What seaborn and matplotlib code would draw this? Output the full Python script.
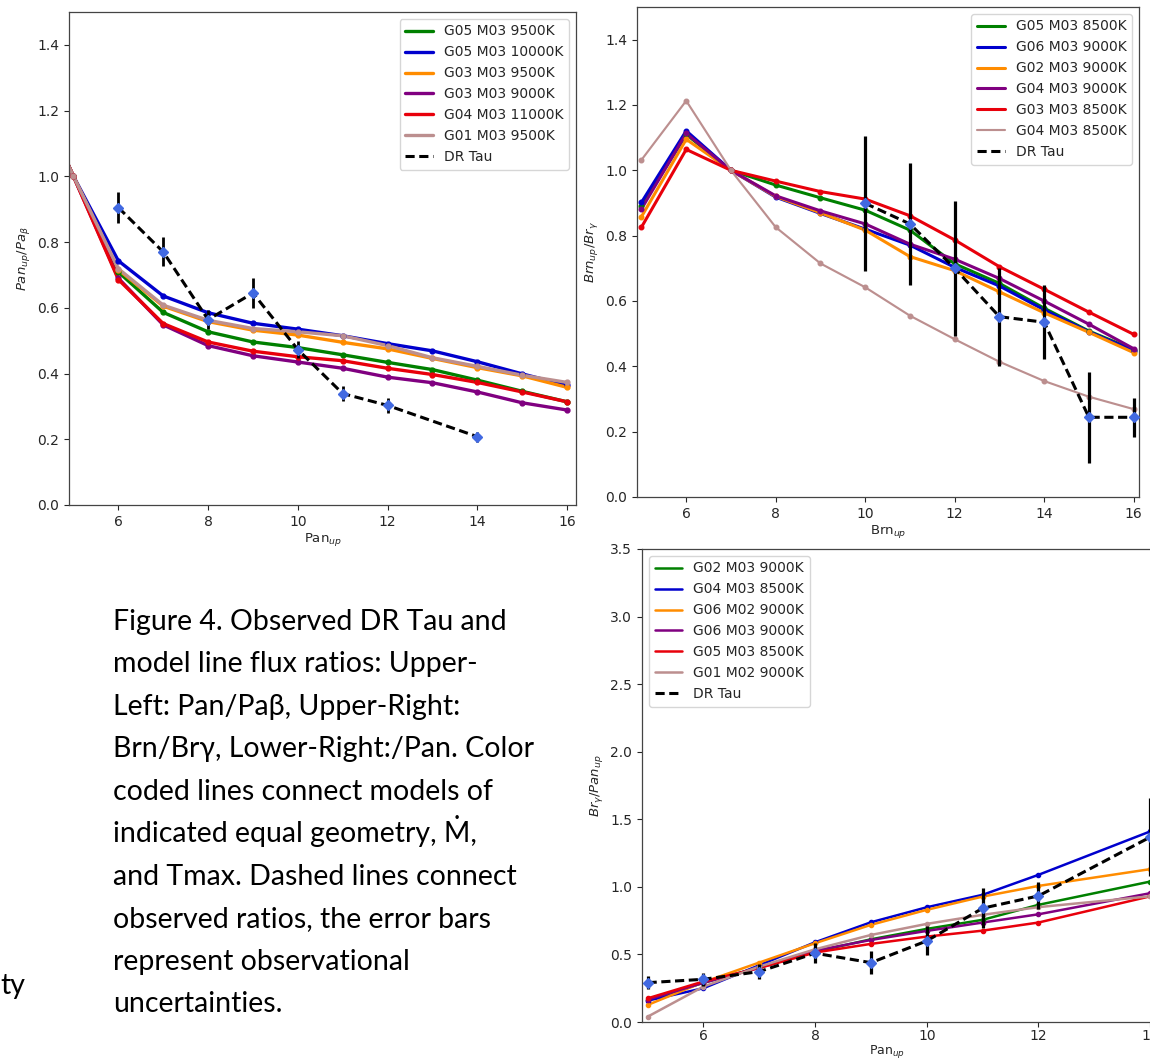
import numpy as np
import pandas as pd
import matplotlib
matplotlib.use("Agg")
import matplotlib.pyplot as plt
import seaborn as sns

sns.set_style("ticks")
plt.rcParams["font.family"] = ["DejaVu Sans"]
plt.rcParams["mathtext.fontset"] = "dejavusans"

# ---------------- data ----------------
# Panel 1: Pa n_up / Pa beta
p1_x = [4, 5, 6, 7, 8, 9, 10, 11, 12, 13, 14, 15, 16]
p1_names = ["G05 M03 9500K", "G05 M03 10000K", "G03 M03 9500K",
            "G03 M03 9000K", "G04 M03 11000K", "G01 M03 9500K"]
p1_g05_9500 = [1.30, 1.0, 0.709, 0.586, 0.527, 0.496, 0.479, 0.457, 0.434, 0.412, 0.380, 0.346, 0.314]
p1_g05_10000 = [1.30, 1.0, 0.743, 0.636, 0.585, 0.553, 0.535, 0.515, 0.491, 0.469, 0.436, 0.399, 0.364]
p1_g03_9500 = [1.30, 1.0, 0.716, 0.605, 0.558, 0.532, 0.517, 0.495, 0.475, 0.446, 0.418, 0.393, 0.358]
p1_g03_9000 = [1.30, 1.0, 0.690, 0.548, 0.485, 0.454, 0.435, 0.416, 0.389, 0.372, 0.344, 0.311, 0.289]
p1_g04_11000 = [1.30, 1.0, 0.686, 0.552, 0.496, 0.468, 0.451, 0.439, 0.416, 0.397, 0.373, 0.344, 0.314]
p1_g01_9500 = [1.30, 1.0, 0.719, 0.608, 0.562, 0.537, 0.527, 0.515, 0.485, 0.448, 0.422, 0.395, 0.373]
p1_obs_x = [6, 7, 8, 9, 10, 11, 12, 14]
p1_obs_y = [0.905, 0.770, 0.564, 0.645, 0.473, 0.339, 0.303, 0.208]
p1_obs_err = [0.046, 0.044, 0.030, 0.045, 0.025, 0.024, 0.023, 0.015]

# Panel 2: Br n_up / Br gamma
p2_x = [5, 6, 7, 8, 9, 10, 11, 12, 13, 14, 15, 16]
p2_names = ["G05 M03 8500K", "G06 M03 9000K", "G02 M03 9000K",
            "G04 M03 9000K", "G03 M03 8500K", "G04 M03 8500K"]
p2_g05_8500 = [0.890, 1.110, 1.0, 0.955, 0.916, 0.878, 0.817, 0.714, 0.654, 0.578, 0.508, 0.451]
p2_g06_9000 = [0.902, 1.121, 1.0, 0.918, 0.868, 0.820, 0.771, 0.703, 0.646, 0.573, 0.506, 0.448]
p2_g02_9000 = [0.858, 1.095, 1.0, 0.920, 0.870, 0.817, 0.736, 0.693, 0.628, 0.564, 0.504, 0.442]
p2_g04_9000 = [0.882, 1.113, 1.0, 0.922, 0.876, 0.836, 0.774, 0.728, 0.669, 0.600, 0.529, 0.454]
p2_g03_8500 = [0.826, 1.064, 1.0, 0.967, 0.935, 0.912, 0.861, 0.787, 0.705, 0.636, 0.566, 0.498]
p2_g04_8500 = [1.032, 1.213, 1.0, 0.826, 0.715, 0.642, 0.555, 0.483, 0.414, 0.355, 0.307, 0.269]
p2_obs_x = [10, 11, 12, 13, 14, 15, 16]
p2_obs_y = [0.899, 0.836, 0.700, 0.552, 0.535, 0.244, 0.244]
p2_obs_err = [0.206, 0.186, 0.206, 0.150, 0.114, 0.139, 0.059]

# Panel 3: Br gamma / Pa n_up
p3_x = [5, 6, 7, 8, 9, 10, 11, 12, 14]
p3_names = ["G02 M03 9000K", "G04 M03 8500K", "G06 M02 9000K",
            "G06 M03 9000K", "G05 M03 8500K", "G01 M02 9000K"]
p3_g02_9000 = [0.160, 0.290, 0.405, 0.520, 0.612, 0.689, 0.756, 0.867, 1.039]
p3_g04_8500 = [0.158, 0.250, 0.420, 0.590, 0.738, 0.849, 0.941, 1.089, 1.410]
p3_g06m02_9000 = [0.126, 0.295, 0.440, 0.583, 0.719, 0.830, 0.928, 1.007, 1.131]
p3_g06m03_9000 = [0.165, 0.290, 0.400, 0.528, 0.607, 0.674, 0.736, 0.797, 0.953]
p3_g05_8500 = [0.175, 0.300, 0.400, 0.514, 0.578, 0.632, 0.676, 0.736, 0.930]
p3_g01_9000 = [0.039, 0.262, 0.410, 0.538, 0.644, 0.726, 0.793, 0.850, 0.930]
p3_obs_x = [5, 6, 7, 8, 9, 10, 11, 12, 14]
p3_obs_y = [0.291, 0.316, 0.373, 0.509, 0.439, 0.600, 0.842, 0.933, 1.368]
p3_obs_err = [0.050, 0.050, 0.055, 0.075, 0.083, 0.107, 0.146, 0.100, 0.287]

colors = ["green", "mediumblue", "darkorange", "purple", "#e8000b", "rosybrown"]

caption_lines = [
    "Figure 4. Observed DR Tau and",
    "model line flux ratios: Upper-",
    "Left: Pan/Paβ, Upper-Right:",
    "Brn/Brγ, Lower-Right:/Pan. Color",
    "coded lines connect models of",
    "indicated equal geometry, Ṁ,",
    "and Tmax. Dashed lines connect",
    "observed ratios, the error bars",
    "represent observational",
    "uncertainties.",
]

# ---------------- figure ----------------
W, H, DPI = 1150, 1059, 100
fig = plt.figure(figsize=(W / DPI, H / DPI), dpi=DPI)
fig.patch.set_facecolor("white")


def rect(left, top, right, bottom):
    return [left / W, 1 - bottom / H, (right - left) / W, (bottom - top) / H]


def draw_panel(ax, x, names, series, ox, oy, oerr, lw, ms, thin_last, elw):
    for i, (name, vals) in enumerate(zip(names, series)):
        df = pd.DataFrame({"n": x, "ratio": vals})
        w = lw * 0.7 if (thin_last and i == 5) else lw
        sns.lineplot(data=df, x="n", y="ratio", color=colors[i], linewidth=w,
                     label=name, ax=ax, sort=False, estimator=None, legend=False)
        ax.plot(df["n"], df["ratio"], "o", color=colors[i], markersize=ms,
                label="_nolegend_", zorder=3)
    odf = pd.DataFrame({"n": ox, "ratio": oy})
    ax.errorbar(ox, oy, yerr=oerr, fmt="none", ecolor="black",
                elinewidth=elw, zorder=4)
    sns.lineplot(data=odf, x="n", y="ratio", color="black", linewidth=2.2,
                 linestyle=(0, (3, 1.5)), label="DR Tau", ax=ax, sort=False,
                 estimator=None, legend=False, zorder=5)
    ax.plot(odf["n"], odf["ratio"], "D", color="royalblue", markersize=5,
            label="_nolegend_", zorder=6)
    ax.tick_params(labelsize=10)
    for s in ax.spines.values():
        s.set_color("#444444")
        s.set_linewidth(0.9)


# Panel 1
ax1 = fig.add_axes(rect(69, 12, 576, 505))
draw_panel(ax1, p1_x, p1_names,
           [p1_g05_9500, p1_g05_10000, p1_g03_9500, p1_g03_9000, p1_g04_11000, p1_g01_9500],
           p1_obs_x, p1_obs_y, p1_obs_err, lw=2.4, ms=3.5, thin_last=False, elw=2.0)
ax1.set_xlim(4.9, 16.2)
ax1.set_ylim(0, 1.5)
ax1.set_xticks([6, 8, 10, 12, 14, 16])
ax1.set_yticks([0.0, 0.2, 0.4, 0.6, 0.8, 1.0, 1.2, 1.4])
ax1.set_xlabel("Pan$_{up}$", fontsize=9.5, labelpad=2)
ax1.set_ylabel("$Pan_{up}/Pa_{\\beta}$", fontsize=9.5)
ax1.legend(loc="upper right", fontsize=10)

# Panel 2
ax2 = fig.add_axes(rect(637, 7, 1139, 497))
draw_panel(ax2, p2_x, p2_names,
           [p2_g05_8500, p2_g06_9000, p2_g02_9000, p2_g04_9000, p2_g03_8500, p2_g04_8500],
           p2_obs_x, p2_obs_y, p2_obs_err, lw=2.2, ms=3.3, thin_last=True, elw=2.3)
ax2.set_xlim(4.9, 16.12)
ax2.set_ylim(0, 1.5)
ax2.set_xticks([6, 8, 10, 12, 14, 16])
ax2.set_yticks([0.0, 0.2, 0.4, 0.6, 0.8, 1.0, 1.2, 1.4])
ax2.set_xlabel("Brn$_{up}$", fontsize=9.5, labelpad=2)
ax2.set_ylabel("$Brn_{up}/Br_{\\gamma}$", fontsize=9.5)
ax2.legend(loc="upper right", fontsize=10)

# Panel 3 (cropped at the right edge of the picture)
ax3 = fig.add_axes(rect(642, 549, 1273, 1022))
draw_panel(ax3, p3_x, p3_names,
           [p3_g02_9000, p3_g04_8500, p3_g06m02_9000, p3_g06m03_9000, p3_g05_8500, p3_g01_9000],
           p3_obs_x, p3_obs_y, p3_obs_err, lw=1.8, ms=3.0, thin_last=False, elw=2.3)
ax3.set_xlim(4.9, 16.2)
ax3.set_ylim(0, 3.5)
ax3.set_xticks([6, 8, 10, 12, 14, 16])
ax3.set_yticks([0.0, 0.5, 1.0, 1.5, 2.0, 2.5, 3.0, 3.5])
ax3.tick_params(axis="x", pad=1.5)
ax3.set_xlabel("Pan$_{up}$", fontsize=9, labelpad=0)
ax3.xaxis.set_label_coords((887 - 642) / (1273 - 642), -0.045)
ax3.set_ylabel("$Br_{\\gamma}/Pan_{up}$", fontsize=9.5)
ax3.legend(loc="upper left", fontsize=10)

# ---------------- caption ----------------
cap_family = ["Lato", "DejaVu Sans"]
renderer = fig.canvas.get_renderer()
probe = fig.text(0, 0, caption_lines[0], fontsize=20, family=cap_family)
wpx = probe.get_window_extent(renderer).width
probe.remove()
target_w = 394.0
fs = 20 * target_w / wpx
em_px = fs * DPI / 72
x0 = 113
y0 = 622.5
dy = 42.5
for i, line in enumerate(caption_lines):
    yc = y0 + i * dy
    base = yc + 0.26 * em_px
    fig.text(x0 / W, 1 - base / H, line, fontsize=fs, family=cap_family,
             ha="left", va="baseline", color="black")
fig.text(0 / W, 1 - (987 + 0.26 * em_px) / H, "ty", fontsize=fs, family=cap_family,
         ha="left", va="baseline", color="black")

fig.savefig("out.png", dpi=DPI, facecolor="white")
